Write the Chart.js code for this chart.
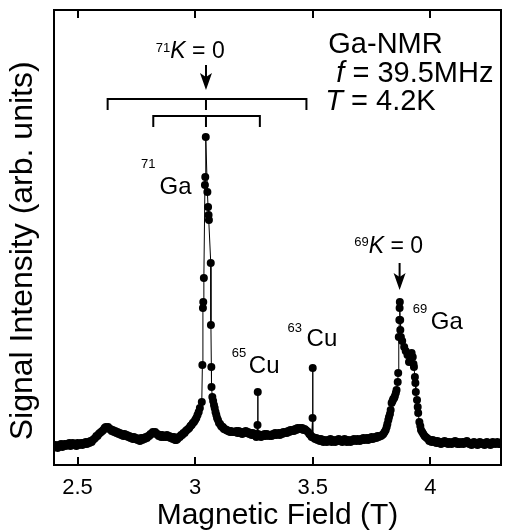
<!DOCTYPE html>
<html>
<head>
<meta charset="utf-8">
<title>Ga-NMR spectrum</title>
<script src="https://cdn.jsdelivr.net/npm/chart.js@4.4.1/dist/chart.umd.min.js"></script>
<style>
    html, body { margin: 0; padding: 0; background: #fff; }
    #nmr-chart { display: block; }
</style>
</head>
<body>
<canvas id="nmr-chart" width="505" height="531"></canvas>
<script>
// [field (T), signal (arb. units)], region by region

const lowField = [
    [2.400, 18], [2.405, 20], [2.410, 19], [2.415, 17], [2.420, 20], [2.425, 19], [2.430, 21], [2.435, 18],
    [2.440, 20], [2.445, 21], [2.450, 19], [2.455, 21], [2.460, 20], [2.465, 22], [2.470, 19], [2.475, 21],
    [2.480, 22], [2.485, 20], [2.490, 21], [2.495, 19], [2.500, 22], [2.505, 20], [2.510, 21], [2.515, 22],
    [2.520, 20], [2.525, 22], [2.530, 21], [2.535, 23], [2.540, 21], [2.545, 23], [2.550, 22], [2.555, 24],
    [2.560, 23], [2.565, 25], [2.570, 26], [2.575, 27], [2.580, 29], [2.585, 29], [2.590, 31], [2.595, 32],
    [2.600, 33], [2.605, 34], [2.610, 35], [2.615, 37], [2.620, 38], [2.625, 37], [2.630, 38], [2.635, 36],
    [2.640, 36], [2.645, 34], [2.650, 35], [2.655, 33], [2.660, 34], [2.665, 32], [2.670, 33], [2.675, 31],
    [2.680, 32], [2.685, 30], [2.690, 31], [2.695, 29], [2.700, 31], [2.705, 29], [2.710, 30], [2.715, 28],
    [2.720, 29], [2.725, 27], [2.730, 28], [2.735, 26], [2.740, 28], [2.745, 26], [2.750, 27], [2.755, 25],
    [2.760, 26], [2.765, 24], [2.770, 27], [2.775, 25], [2.780, 27], [2.785, 26], [2.790, 28], [2.795, 27],
    [2.800, 29], [2.805, 29], [2.810, 31], [2.815, 31], [2.820, 33], [2.825, 32], [2.830, 33], [2.835, 31],
    [2.840, 31], [2.845, 29], [2.850, 30], [2.855, 28], [2.860, 30], [2.865, 28], [2.870, 29], [2.875, 28],
    [2.880, 30], [2.885, 28], [2.890, 29], [2.895, 27], [2.900, 28], [2.905, 26], [2.910, 28], [2.915, 25],
    [2.920, 25], [2.925, 26], [2.930, 28], [2.935, 28], [2.940, 30], [2.945, 30], [2.950, 32], [2.955, 32],
    [2.960, 34], [2.965, 35], [2.970, 36], [2.975, 37], [2.980, 39], [2.985, 40], [2.990, 42], [2.995, 43],
    [3.000, 45], [3.005, 47], [3.010, 50], [3.015, 53], [3.020, 57],
];

const ga71Peak = [
    [3.0282, 63], [3.0307, 100], [3.0330, 157], [3.0345, 163], [3.0370, 187], [3.0415, 280], [3.0430, 288],
    [3.0451, 328], [3.0519, 273], [3.0549, 258], [3.0570, 250], [3.0585, 245], [3.0663, 202], [3.0670, 140],
    [3.0688, 98], [3.0695, 78], [3.0730, 68], [3.0765, 64], [3.0800, 60], [3.0830, 57], [3.0865, 53],
    [3.0900, 50], [3.0930, 47], [3.0970, 45], [3.1013, 42], [3.1060, 41], [3.1100, 39], [3.1140, 38],
    [3.1180, 38], [3.1220, 36], [3.1267, 36], [3.1310, 35], [3.1350, 35], [3.1390, 34], [3.1436, 34],
    [3.1480, 33], [3.1530, 34], [3.1580, 33], [3.1647, 33],
];

// includes the two narrow Cu lines at 3.266 T and 3.500 T
const cuRegion = [
    [3.170, 33], [3.175, 34], [3.180, 32], [3.185, 34], [3.190, 32], [3.195, 33], [3.200, 31], [3.205, 33],
    [3.210, 32], [3.215, 34], [3.220, 32], [3.225, 33], [3.230, 31], [3.235, 32], [3.240, 30], [3.245, 32],
    [3.250, 30], [3.255, 31], [3.260, 28], [3.265, 40], [3.2661, 73], [3.267, 31], [3.270, 29], [3.275, 30],
    [3.280, 28], [3.285, 30], [3.290, 29], [3.295, 31], [3.300, 29], [3.305, 31], [3.310, 30], [3.315, 29],
    [3.320, 30], [3.325, 29], [3.330, 31], [3.335, 30], [3.340, 32], [3.345, 30], [3.350, 31], [3.355, 32],
    [3.360, 30], [3.365, 32], [3.370, 31], [3.375, 33], [3.380, 32], [3.385, 33], [3.390, 32], [3.395, 34],
    [3.400, 33], [3.405, 35], [3.410, 34], [3.415, 35], [3.420, 34], [3.425, 36], [3.430, 35], [3.435, 37],
    [3.440, 36], [3.445, 37], [3.450, 36], [3.455, 37], [3.460, 35], [3.465, 36], [3.470, 35], [3.475, 34],
    [3.480, 33], [3.485, 31], [3.490, 30], [3.495, 28], [3.499, 47], [3.4997, 97], [3.5003, 28], [3.505, 27],
    [3.510, 26], [3.515, 27], [3.520, 25], [3.525, 26], [3.530, 24], [3.535, 26], [3.540, 25], [3.545, 23],
    [3.550, 25], [3.555, 24], [3.560, 23], [3.565, 25], [3.570, 24], [3.575, 26], [3.580, 23], [3.585, 25],
    [3.590, 24], [3.595, 23], [3.600, 25], [3.605, 24], [3.610, 26], [3.615, 24], [3.620, 25], [3.625, 23],
    [3.630, 24], [3.635, 26], [3.640, 25], [3.645, 23], [3.650, 25], [3.655, 24], [3.660, 23], [3.665, 25],
    [3.670, 24], [3.675, 26], [3.680, 25], [3.685, 24], [3.690, 26], [3.695, 25], [3.700, 24], [3.705, 26],
    [3.710, 25], [3.715, 27], [3.720, 25], [3.725, 26], [3.730, 27], [3.735, 25], [3.740, 27], [3.745, 26],
    [3.750, 28], [3.755, 26], [3.760, 27], [3.765, 28], [3.770, 27], [3.775, 29], [3.780, 28], [3.785, 29],
    [3.790, 29], [3.795, 30], [3.800, 31], [3.805, 33],
];

const ga69Peak = [
    [3.810, 35], [3.814, 38], [3.817, 41], [3.821, 45], [3.824, 48], [3.828, 51], [3.831, 55], [3.835, 62],
    [3.839, 64], [3.842, 66], [3.846, 67], [3.849, 69], [3.853, 72], [3.856, 75], [3.861, 83], [3.863, 92],
    [3.8655, 128], [3.868, 145], [3.869, 157], [3.870, 163], [3.8715, 145], [3.872, 135], [3.8745, 128],
    [3.880, 124], [3.8885, 118], [3.895, 114], [3.9025, 110], [3.909, 103], [3.915, 106], [3.920, 112],
    [3.925, 108], [3.928, 101], [3.930, 98], [3.934, 88], [3.936, 82], [3.938, 73], [3.943, 65], [3.946, 58],
    [3.948, 52], [3.953, 43], [3.957, 39], [3.960, 35], [3.965, 33], [3.970, 31], [3.975, 29], [3.980, 28],
    [3.985, 27], [3.990, 26], [3.995, 24], [4.000, 25],
];

const highField = [
    [4.005, 23], [4.010, 25], [4.015, 23], [4.020, 24], [4.025, 22], [4.030, 24], [4.035, 22], [4.040, 23],
    [4.045, 21], [4.050, 23], [4.055, 22], [4.060, 24], [4.065, 22], [4.070, 23], [4.075, 21], [4.080, 23],
    [4.085, 22], [4.090, 21], [4.095, 23], [4.100, 22], [4.105, 24], [4.110, 22], [4.115, 21], [4.120, 23],
    [4.125, 21], [4.130, 22], [4.135, 23], [4.140, 21], [4.145, 23], [4.150, 22], [4.155, 24], [4.160, 22],
    [4.165, 21], [4.170, 22], [4.175, 20], [4.180, 22], [4.185, 23], [4.190, 21], [4.195, 22], [4.200, 20],
    [4.205, 22], [4.210, 23], [4.215, 21], [4.220, 22], [4.225, 21], [4.230, 20], [4.235, 22], [4.240, 23],
    [4.245, 21], [4.250, 22], [4.255, 20], [4.260, 21], [4.265, 23], [4.270, 22], [4.275, 21], [4.280, 22],
    [4.285, 23], [4.290, 21], [4.295, 22], [4.300, 21],
];

const xTicks = [2.5, 3, 3.5, 4];

const FONT = "'Liberation Sans', Arial, Helvetica, sans-serif";

const bracket = (ctx, x0, x1, xc, yb, drop) => {
    ctx.beginPath();
    ctx.moveTo(x0, yb + drop);
    ctx.lineTo(x0, yb);
    ctx.lineTo(x1, yb);
    ctx.lineTo(x1, yb + drop);
    ctx.moveTo(xc, yb);
    ctx.lineTo(xc, yb + drop);
    ctx.stroke();
};

const arrow = (ctx, x, yTop, yTip) => {
    ctx.beginPath();
    ctx.moveTo(x, yTop);
    ctx.lineTo(x, yTip - 10);
    ctx.stroke();
    ctx.beginPath();
    ctx.moveTo(x, yTip);
    ctx.lineTo(x - 6, yTip - 17);
    ctx.lineTo(x, yTip - 13);
    ctx.lineTo(x + 6, yTip - 17);
    ctx.closePath();
    ctx.fill();
};

// superscript + text pieces, pieces are [text, italic]
const label = (ctx, sup, pieces, x, y, rise, gap, size) => {
    ctx.textAlign = "left";
    ctx.textBaseline = "alphabetic";
    let cx = x;
    if (sup) {
        ctx.font = "13px " + FONT;
        ctx.fillText(sup, cx, y - rise);
        cx += ctx.measureText(sup).width + gap;
    }
    pieces.forEach(([text, italic]) => {
        ctx.font = (italic ? "italic " : "") + size + "px " + FONT;
        ctx.fillText(text, cx, y);
        cx += ctx.measureText(text).width;
    });
};

const annotations = {
    id: "annotations",
    afterDatasetsDraw(chart) {
        const ctx = chart.ctx;
        const px = (t) => chart.scales.x.getPixelForValue(t);
        const py = (v) => chart.scales.y.getPixelForValue(v);
        ctx.save();
        ctx.fillStyle = "#000";
        ctx.strokeStyle = "#000";
        ctx.lineWidth = 2;

        bracket(ctx, px(2.628), px(3.473), px(3.046), py(366), 11);
        bracket(ctx, px(2.822), px(3.275), px(3.046), py(349), 11);
        arrow(ctx, px(3.046), py(400), py(375));
        arrow(ctx, px(3.869), py(202), py(175));

        label(ctx, "71", [["K", true], [" = 0", false]], px(2.833), py(407.3), 6, 0, 23);
        label(ctx, "69", [["K", true], [" = 0", false]], px(3.676), py(211.7), 7, 0, 23);
        label(ctx, "71", [["Ga", false]], px(2.770), py(271), 26, 4, 24);
        label(ctx, "65", [["Cu", false]], px(3.156), py(92.3), 16, 2.5, 24);
        label(ctx, "63", [["Cu", false]], px(3.393), py(119), 14, 4.5, 24);
        label(ctx, "69", [["Ga", false]], px(3.925), py(135.7), 16, 3.5, 24);

        label(ctx, "", [["Ga-NMR", false]], px(3.566), py(411.7), 0, 0, 29);
        label(ctx, "", [["f", true], [" = 39.5MHz", false]], px(3.600), py(383.3), 0, 0, 29);
        label(ctx, "", [["T", true], [" = 4.2K", false]], px(3.553), py(355), 0, 0, 29);
        ctx.restore();
    },
};

const setTicks = (scale) => {
    scale.ticks = xTicks.map((v) => ({ value: v }));
};

const initChart = () => {
    const ctx = document.querySelector("#nmr-chart");
    const points = [...lowField, ...ga71Peak, ...cuRegion, ...ga69Peak, ...highField].map(
        ([t, s]) => ({ x: t, y: s })
    );

    return new Chart(ctx, {
        type: "scatter",
        data: {
            datasets: [
                {
                    data: points,
                    showLine: true,
                    borderColor: "#000",
                    borderWidth: 1,
                    pointRadius: 4,
                    pointBorderWidth: 0,
                    pointBackgroundColor: "#000",
                },
            ],
        },
        options: {
            responsive: false,
            devicePixelRatio: 1,
            animation: false,
            layout: { padding: { top: 10, right: 1, bottom: 0, left: 0 } },
            plugins: {
                legend: { display: false },
                tooltip: { enabled: false },
            },
            scales: {
                x: {
                    type: "linear",
                    position: "bottom",
                    min: 2.4,
                    max: 4.3,
                    afterBuildTicks: setTicks,
                    afterFit: (scale) => { scale.height = 66; },
                    grid: {
                        drawOnChartArea: false,
                        drawTicks: true,
                        tickLength: -8,
                        color: "#000",
                        lineWidth: 2,
                    },
                    border: { color: "#000", width: 2 },
                    ticks: {
                        color: "#000",
                        padding: 18,
                        maxRotation: 0,
                        font: { family: FONT, size: 22 },
                        callback: (v) => String(v),
                    },
                    title: {
                        display: true,
                        text: "Magnetic Field (T)",
                        color: "#000",
                        padding: 0,
                        font: { family: FONT, size: 30, lineHeight: 1 },
                    },
                },
                xTop: {
                    type: "linear",
                    position: "top",
                    min: 2.4,
                    max: 4.3,
                    afterBuildTicks: setTicks,
                    afterFit: (scale) => { scale.height = 0; },
                    grid: {
                        drawOnChartArea: false,
                        drawTicks: true,
                        tickLength: -8,
                        color: "#000",
                        lineWidth: 2,
                    },
                    border: { color: "#000", width: 2 },
                    ticks: { display: false },
                },
                y: {
                    type: "linear",
                    position: "left",
                    min: 0,
                    max: 455,
                    afterFit: (scale) => { scale.width = 54; },
                    grid: { drawOnChartArea: false, drawTicks: false },
                    border: { color: "#000", width: 2 },
                    ticks: { display: false },
                    title: {
                        display: true,
                        // trailing spaces push the centred title a little lower, as in the figure
                        text: "Signal Intensity (arb. units)   ",
                        color: "#000",
                        padding: { top: 7, bottom: 0 },
                        font: { family: FONT, size: 32, lineHeight: 1 },
                    },
                },
                yRight: {
                    type: "linear",
                    position: "right",
                    min: 0,
                    max: 455,
                    afterFit: (scale) => { scale.width = 0; },
                    grid: { drawOnChartArea: false, drawTicks: false },
                    border: { color: "#000", width: 2 },
                    ticks: { display: false },
                },
            },
        },
        plugins: [annotations],
    });
};

window.nmrChart = initChart();
</script>
</body>
</html>
